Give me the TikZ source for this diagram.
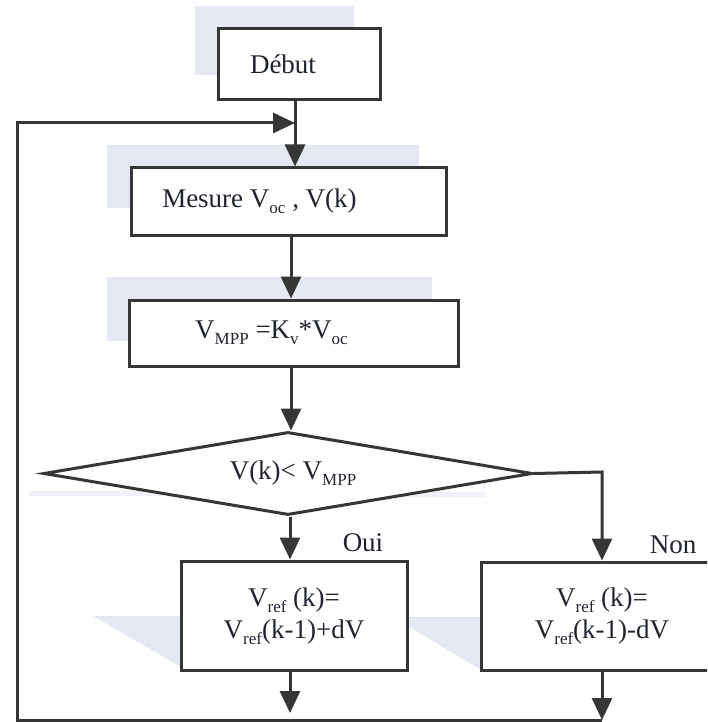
\documentclass[tikz,border=0pt]{standalone}
\usepackage{fontspec}
\setmainfont{Liberation Serif}
\usetikzlibrary{arrows.meta,shapes.geometric}
\definecolor{shade}{HTML}{E3E8F3}
\definecolor{ink}{HTML}{363636}
\definecolor{txt}{HTML}{1F2430}
\newcommand{\lowtxt}[1]{\raisebox{-0.5ex}{\fontsize{17}{17}\selectfont #1}}
\newcommand{\twolines}[2]{\raisebox{10pt}{\begin{tabular}{@{}c@{}}#1\\[-1pt]#2\end{tabular}}}
\tikzset{
  boxnode/.style={draw=ink, line width=3pt, fill=white, rectangle, inner sep=0pt,
    font=\fontsize{27}{33}\selectfont, text=txt, align=center},
  decnode/.style={draw=ink, line width=3pt, fill=white, diamond, aspect=5.9, inner sep=0pt,
    font=\fontsize{27}{33}\selectfont, text=txt},
  flow/.style={draw=ink, line width=3pt, -{Triangle[length=22pt,width=20pt]}},
  lbl/.style={font=\fontsize{27}{33}\selectfont, text=txt, inner sep=0pt},
  shadefill/.style={fill=shade, draw=none}
}
\begin{document}
\begin{tikzpicture}[x=1pt,y=-1pt]
\useasboundingbox (0,0) rectangle (707,722);
\clip (0,0) rectangle (707,722);
\fill[white] (0,0) rectangle (707,722);
% shadows
\path[shadefill] (195,6) rectangle (354,75);
\path[shadefill] (107,145) rectangle (419,208);
\path[shadefill] (107,277) rectangle (432,341);
\path[shadefill] (93,616) -- (183,616) -- (183,668) -- cycle;
\path[shadefill] (393,617) -- (481,617) -- (481,670) -- cycle;
\path[fill=shade!60] (30,491) -- (485,492) -- (485,497) -- (30,496) -- cycle;
% nodes
\node[boxnode, minimum width=162pt, minimum height=71pt] (debut) at (299,64.5)
  {\hspace*{-32pt}Début};
\node[boxnode, minimum width=315pt, minimum height=67pt] (mesure) at (288.5,201.5)
  {\hspace*{-58pt}Mesure V\lowtxt{oc} , V(k)};
\node[boxnode, minimum width=329pt, minimum height=66pt] (vmpp) at (293.5,333)
  {\hspace*{-44pt}\raisebox{-4pt}{V\lowtxt{MPP} =K\lowtxt{v}*V\lowtxt{oc}}};
\node[decnode, minimum width=489pt, minimum height=83pt] (dec) at (288,473.5)
  {\hspace*{10pt}\raisebox{-5pt}{V(k)< V\lowtxt{MPP}}};
\node[boxnode, minimum width=226pt, minimum height=109pt] (oui) at (294,615.5)
  {\twolines{V\lowtxt{ref} (k)=}{V\lowtxt{ref}(k-1)+dV}};
\node[boxnode, minimum width=242pt, minimum height=108pt] (non) at (602,616)
  {\twolines{V\lowtxt{ref} (k)=}{V\lowtxt{ref}(k-1)-dV}};
\node[lbl] (oui-l) at (363,543) {Oui};
\node[lbl] (non-l) at (673,545) {Non};
% connectors
\coordinate (rturn) at (602,472);
\coordinate (ouiend) at (290,713);
\coordinate (nonend) at (602,720);
\coordinate (bl) at (17,720);
\coordinate (tl) at (17,123);
\coordinate (join) at (295,123);
\draw[flow] (debut.south -| join) -- (join |- mesure.north);
\draw[flow] (mesure.south -| 291,0) -- (291,0 |- vmpp.north);
\draw[flow] (vmpp.south -| 291,0) -- (291,0 |- dec.north);
\draw[flow] (dec.south -| 290,0) -- (290,0 |- oui.north);
\draw[flow] (dec.east) -- (rturn) -- (rturn |- non.north);
\draw[flow] (oui.south -| ouiend) -- (ouiend);
\draw[flow] (non.south) -- (nonend);
\draw[flow] (nonend) -- (bl) -- (tl) -- (join);
\end{tikzpicture}
\end{document}
